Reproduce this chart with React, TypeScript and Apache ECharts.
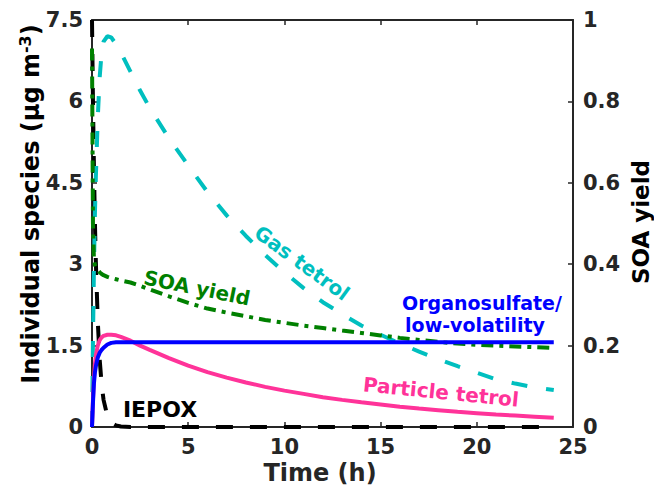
import React, { useEffect, useRef } from "react";
import * as echarts from "echarts";

// Time points (h)
const times = [0, 0.05, 0.1, 0.15, 0.2, 0.3, 0.4, 0.5, 0.6, 0.8, 1, 1.25, 1.5, 2, 2.5, 3, 4, 5, 6, 7, 8, 9, 10, 11, 12, 13, 14, 15, 16, 17, 18, 19, 20, 21, 22, 23, 24];

// Individual species (µg m-3)
const iepox = [7.5, 6.0, 4.8, 3.8, 3.05, 1.95, 1.24, 0.79, 0.5, 0.2, 0.08, 0.03, 0.01, 0, 0, 0, 0, 0, 0, 0, 0, 0, 0, 0, 0, 0, 0, 0, 0, 0, 0, 0, 0, 0, 0, 0, 0];
const gasTetrol = [0, 1.6, 2.9, 3.9, 4.6, 5.7, 6.45, 6.9, 7.1, 7.2, 7.18, 7.05, 6.9, 6.55, 6.2, 5.88, 5.32, 4.82, 4.33, 3.9, 3.52, 3.17, 2.85, 2.56, 2.3, 2.08, 1.87, 1.7, 1.54, 1.39, 1.25, 1.12, 1.0, 0.88, 0.8, 0.73, 0.68];
const organosulfate = [0, 0.45, 0.8, 1.0, 1.12, 1.28, 1.37, 1.42, 1.46, 1.52, 1.55, 1.56, 1.56, 1.56, 1.56, 1.56, 1.56, 1.56, 1.56, 1.56, 1.56, 1.56, 1.56, 1.56, 1.56, 1.56, 1.56, 1.56, 1.56, 1.56, 1.56, 1.56, 1.56, 1.56, 1.56, 1.56, 1.56];
const particleTetrol = [0, 0.5, 0.9, 1.15, 1.32, 1.5, 1.6, 1.65, 1.68, 1.7, 1.7, 1.69, 1.66, 1.59, 1.5, 1.42, 1.27, 1.13, 1.01, 0.91, 0.82, 0.74, 0.67, 0.61, 0.55, 0.5, 0.455, 0.415, 0.375, 0.34, 0.31, 0.28, 0.255, 0.23, 0.21, 0.19, 0.17];
// SOA yield (right axis)
const soaYield = [0.93, 0.5, 0.41, 0.398, 0.393, 0.386, 0.38, 0.376, 0.373, 0.369, 0.366, 0.363, 0.36, 0.355, 0.347, 0.338, 0.321, 0.305, 0.291, 0.281, 0.272, 0.263, 0.256, 0.249, 0.243, 0.237, 0.231, 0.225, 0.219, 0.214, 0.209, 0.205, 0.202, 0.2, 0.198, 0.196, 0.194];

const FONT = "DejaVu Sans";
const AXIS_COLOR = "#262626";

const pairs = (ys: number[]) => times.map((t, i) => [t, ys[i]]);

export default function App() {
  const ref = useRef<HTMLDivElement>(null);
  useEffect(() => {
    if (!ref.current) return;
    const chart = echarts.init(ref.current, null, { renderer: "svg" });
    const axisLine = { show: true, onZero: false, lineStyle: { color: AXIS_COLOR, width: 2 } };
    const axisTick = { show: true, inside: true, length: 5, lineStyle: { color: AXIS_COLOR, width: 1.5 } };
    const tickLabel = { color: AXIS_COLOR, fontFamily: FONT, fontWeight: "bold", fontSize: 21 };
    const annot = (text: string, x: number, y: number, color: string, size: number, rot = 0, extra: any = {}) => ({
      type: "text",
      x,
      y,
      rotation: rot,
      z: 100,
      style: { text, fill: color, font: `bold ${size}px "${FONT}"`, align: "center", verticalAlign: "middle", ...extra },
    });
    chart.setOption({
      animation: false,
      backgroundColor: "#ffffff",
      grid: { left: 92, right: 81, top: 20, bottom: 59, containLabel: false, outerBoundsMode: "none" },
      xAxis: [
        {
          type: "value",
          min: 0,
          max: 25,
          interval: 5,
          position: "bottom",
          axisLine,
          axisTick,
          splitLine: { show: false },
          axisLabel: { ...tickLabel, margin: 9 },
        },
        {
          type: "value",
          min: 0,
          max: 25,
          interval: 5,
          position: "top",
          axisLine,
          axisTick,
          splitLine: { show: false },
          axisLabel: { show: false },
        },
      ],
      yAxis: [
        {
          type: "value",
          min: 0,
          max: 7.5,
          interval: 1.5,
          position: "left",
          axisLine,
          axisTick,
          splitLine: { show: false },
          axisLabel: { ...tickLabel, margin: 9 },
        },
        {
          type: "value",
          min: 0,
          max: 1,
          interval: 0.2,
          position: "right",
          axisLine,
          axisTick,
          splitLine: { show: false },
          axisLabel: { ...tickLabel, margin: 10 },
        },
      ],
      series: [
        {
          name: "IEPOX",
          type: "line",
          xAxisIndex: 0,
          yAxisIndex: 0,
          data: pairs(iepox),
          showSymbol: false,
          lineStyle: { color: "#000000", width: 4, type: [17, 17], cap: "butt" },
          z: 2,
        },
        {
          name: "Gas tetrol",
          type: "line",
          xAxisIndex: 0,
          yAxisIndex: 0,
          data: pairs(gasTetrol),
          showSymbol: false,
          lineStyle: { color: "#00BFBF", width: 4, type: [16, 19], cap: "butt" },
          z: 3,
        },
        {
          name: "SOA yield",
          type: "line",
          xAxisIndex: 0,
          yAxisIndex: 1,
          data: pairs(soaYield),
          showSymbol: false,
          lineStyle: { color: "#008000", width: 4, type: [12, 6, 4, 6], cap: "butt" },
          z: 4,
        },
        {
          name: "Particle tetrol",
          type: "line",
          xAxisIndex: 0,
          yAxisIndex: 0,
          data: pairs(particleTetrol),
          showSymbol: false,
          lineStyle: { color: "#FF3399", width: 4 },
          z: 5,
        },
        {
          name: "Organosulfate/low-volatility",
          type: "line",
          xAxisIndex: 0,
          yAxisIndex: 0,
          data: pairs(organosulfate),
          showSymbol: false,
          lineStyle: { color: "#0000FF", width: 4 },
          z: 6,
        },
      ],
      graphic: [
        // axis titles
        annot("Time (h)", 320, 473, AXIS_COLOR, 24),
        annot("Individual species (μg m{sup|-3})", 31, 204, "#000000", 24, Math.PI / 2, {
          rich: {
            sup: { fill: "#000000", font: `bold 16px "${FONT}"`, verticalAlign: "bottom", padding: [0, 0, 12, 0] },
          },
        }),
        annot("SOA yield", 641, 222, "#000000", 23, Math.PI / 2),
        // in-plot annotations
        annot("Gas tetrol", 302, 263, "#00BFBF", 20, -0.63),
        annot("SOA yield", 197, 288, "#008000", 20, -0.2),
        annot("Organosulfate/", 482, 303, "#0000FF", 19),
        annot("low-volatility", 475, 325, "#0000FF", 19),
        annot("Particle tetrol", 441, 392, "#FF3399", 20, -0.1),
        annot("IEPOX", 160, 409, "#000000", 22),
      ],
    });
    return () => chart.dispose();
  }, []);
  return <div ref={ref} style={{ position: "fixed", left: 0, top: 0, width: 654, height: 486 }} />;
}
